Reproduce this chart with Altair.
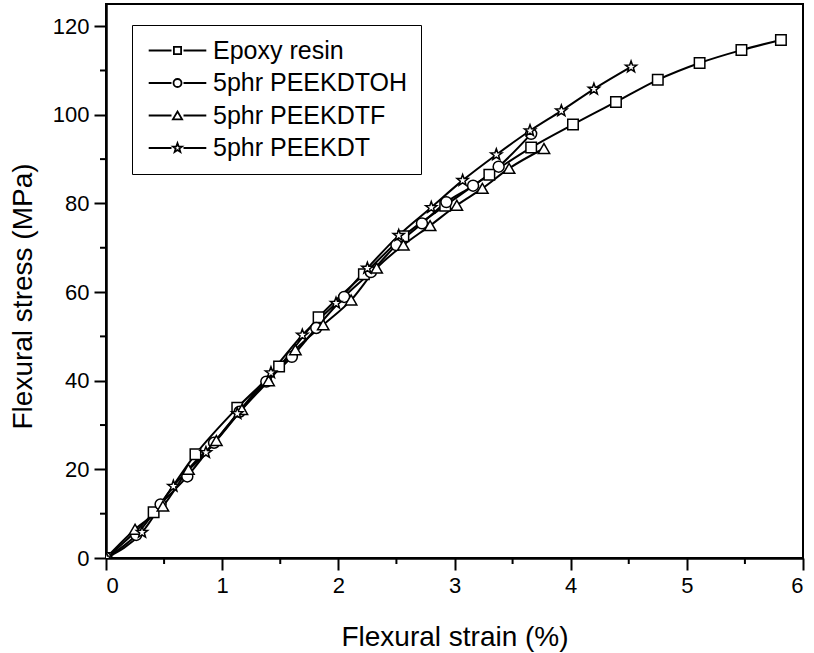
import altair as alt
import pandas as pd

series_names = ["Epoxy resin", "5phr PEEKDTOH", "5phr PEEKDTF", "5phr PEEKDT"]

epoxy_x = [0, 0.41, 0.77, 1.13, 1.49, 1.83, 2.22, 2.56, 2.92, 3.30, 3.66, 4.02, 4.39, 4.75, 5.11, 5.47, 5.81]
epoxy_y = [0, 10.3, 23.4, 33.9, 43.2, 54.3, 64.0, 72.6, 79.5, 86.5, 92.6, 97.8, 102.9, 107.9, 111.7, 114.6, 116.9]

oh_x = [0, 0.26, 0.47, 0.70, 0.93, 1.15, 1.38, 1.60, 1.81, 2.05, 2.28, 2.50, 2.72, 2.93, 3.16, 3.38, 3.66]
oh_y = [0, 5.2, 12.1, 18.4, 26.0, 33.0, 39.8, 45.4, 51.9, 58.9, 64.5, 70.6, 75.5, 80.3, 84.0, 88.3, 95.7]

f_x = [0, 0.25, 0.49, 0.71, 0.95, 1.17, 1.40, 1.63, 1.87, 2.11, 2.33, 2.56, 2.79, 3.02, 3.24, 3.47, 3.77]
f_y = [0, 6.5, 11.7, 20.0, 26.5, 33.5, 40.0, 47.0, 52.6, 58.2, 65.4, 70.6, 75.0, 79.6, 83.4, 87.9, 92.4]

dt_x = [0, 0.31, 0.58, 0.86, 1.13, 1.42, 1.69, 1.98, 2.25, 2.52, 2.80, 3.07, 3.36, 3.65, 3.92, 4.20, 4.52]
dt_y = [0, 5.8, 16.2, 23.8, 32.6, 41.8, 50.3, 57.5, 65.4, 72.8, 79.1, 85.2, 91.0, 96.4, 100.9, 105.8, 110.8]

x_major = [0, 1, 2, 3, 4, 5, 6]
x_minor = [0.5, 1.5, 2.5, 3.5, 4.5, 5.5]
y_major = [0, 20, 40, 60, 80, 100, 120]
y_minor = [10, 30, 50, 70, 90, 110]

rows = []
for name, xs, ys in zip(series_names, [epoxy_x, oh_x, f_x, dt_x], [epoxy_y, oh_y, f_y, dt_y]):
    for a, b in zip(xs, ys):
        rows.append({"series": name, "strain": a, "stress": b})
df = pd.DataFrame(rows)
df_xminor = pd.DataFrame({"strain": x_minor})
df_yminor = pd.DataFrame({"stress": y_minor})

STAR = "M0,-1L0.24,-0.33L0.95,-0.31L0.39,0.13L0.59,0.81L0,0.42L-0.59,0.81L-0.39,0.13L-0.95,-0.31L-0.24,-0.33Z"
shape_range = ["square", "circle", "triangle-up", STAR]
size_range = [110, 140, 190, 180]

# legend symbols: dash - marker - dash
DASH = "M-7.2,0L-1.5,0M1.5,0L7.2,0"
leg_sq = DASH + "M-0.9,-0.9L0.9,-0.9L0.9,0.9L-0.9,0.9Z"
leg_ci = DASH + "M-1,0A1,1 0 1,0 1,0A1,1 0 1,0 -1,0Z"
leg_tr = DASH + "M0,-1L1.15,0.95L-1.15,0.95Z"
leg_st = DASH + "M0,-1.2L0.29,-0.4L1.14,-0.37L0.47,0.16L0.71,0.97L0,0.5L-0.71,0.97L-0.47,0.16L-1.14,-0.37L-0.29,-0.4Z"
legend_shapes = [leg_sq, leg_ci, leg_tr, leg_st]

FONT = "Liberation Sans"

x_scale = alt.Scale(domain=[0, 6], nice=False)
y_scale = alt.Scale(domain=[0, 125], nice=False)

x_enc = alt.X(
    "strain:Q",
    scale=x_scale,
    axis=alt.Axis(
        title="Flexural strain (%)",
        values=x_major,
        format="d",
        tickSize=12,
        grid=False,
        titleY=87,
        titleBaseline="alphabetic",
    ),
)
y_enc = alt.Y(
    "stress:Q",
    scale=y_scale,
    axis=alt.Axis(
        title="Flexural stress (MPa)",
        values=y_major,
        format="d",
        tickSize=12,
        grid=False,
        titleX=-75,
        titleY=292,
        titleAngle=270,
        titleBaseline="alphabetic",
        titleAlign="center",
    ),
)

lines = alt.Chart(df).mark_line(interpolate="monotone", color="black", strokeWidth=2).encode(
    x=x_enc,
    y=y_enc,
    detail="series:N",
)

points = alt.Chart(df).mark_point(
    filled=True, fill="white", stroke="black", strokeWidth=1.5, opacity=1, clip=True
).encode(
    x=x_enc,
    y=y_enc,
    shape=alt.Shape("series:N", scale=alt.Scale(domain=series_names, range=shape_range), legend=None),
    size=alt.Size("series:N", scale=alt.Scale(domain=series_names, range=size_range), legend=None),
)

legend_holder = alt.Chart(df).transform_filter("false").mark_point(
    filled=False, stroke="black", strokeWidth=1.8, opacity=1
).encode(
    x=x_enc,
    y=y_enc,
    shape=alt.Shape(
        "series:N",
        scale=alt.Scale(domain=series_names, range=legend_shapes),
        legend=alt.Legend(
            title=None,
            orient="none",
            legendX=26,
            legendY=21,
            padding=13,
            rowPadding=6.5,
            strokeColor="black",
            fillColor="white",
            symbolSize=64,
            symbolStrokeWidth=1.8,
            symbolStrokeColor="black",
            symbolOffset=20,
            labelOffset=23,
            labelFont=FONT,
            labelFontSize=25,
            labelColor="black",
            labelLimit=400,
        ),
    ),
)

x_minor_ticks = alt.Chart(df_xminor).mark_rule(color="black", strokeWidth=2, clip=False).encode(
    x=alt.X("strain:Q", scale=x_scale),
    y=alt.value(554),
    y2=alt.value(560),
)
y_minor_ticks = alt.Chart(df_yminor).mark_rule(color="black", strokeWidth=2, clip=False).encode(
    y=alt.Y("stress:Q", scale=y_scale),
    x=alt.value(-6),
    x2=alt.value(0),
)

chart = (
    alt.layer(lines, points, legend_holder, x_minor_ticks, y_minor_ticks)
    .resolve_scale(shape="independent")
    .properties(
        width=697,
        height=554,
        autosize=alt.AutoSizeParams(type="none"),
        padding={"left": 106, "top": 4, "right": 11, "bottom": 95},
        background="white",
    )
    .configure_view(stroke="black", strokeWidth=2)
    .configure_axis(
        domainColor="black",
        domainWidth=2.5,
        tickColor="black",
        tickWidth=2,
        tickSize=12,
        labelFont=FONT,
        labelFontSize=22,
        labelColor="black",
        labelPadding=5,
        titleFont=FONT,
        titleFontSize=28,
        titleFontWeight="normal",
        titleColor="black",
    )
)

chart.save("out.html", embed_options={"renderer": "svg", "actions": False})
